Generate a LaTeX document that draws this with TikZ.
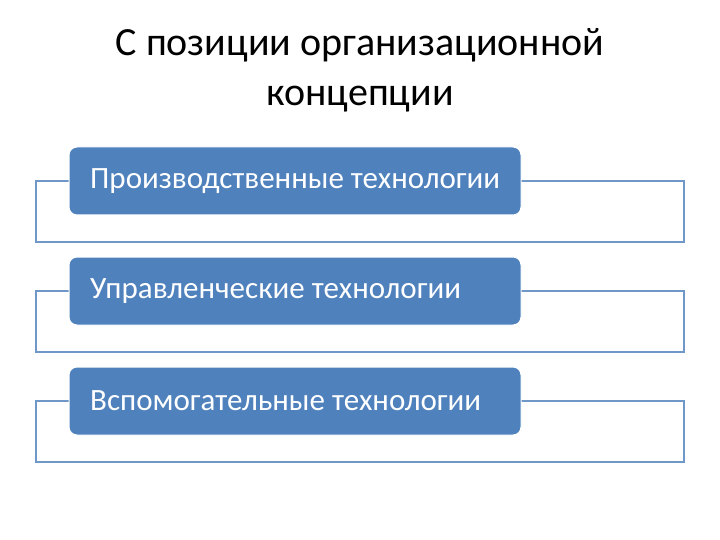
\documentclass[tikz,border=0pt]{standalone}
\usepackage{fontspec}
\setmainfont{Carlito}
\definecolor{accent}{HTML}{4F81BD}
\definecolor{frameline}{HTML}{6F97C8}
\tikzset{
  frame/.style={draw=frameline, line width=1.2pt, fill=white},
  bluebox/.style={draw=white, line width=1pt, fill=accent, rounded corners=8pt},
  boxtext/.style={font=\fontsize{31}{36}\selectfont, text=white, anchor=west, inner xsep=0pt},
  titletext/.style={font=\fontsize{40}{50}\selectfont, align=center}
}
\begin{document}
\begin{tikzpicture}[x=1pt,y=-1pt]
\useasboundingbox (0,0) rectangle (720,540);
\node[titletext] (title) at (360,70) {С позиции организационной\\концепции};
\foreach \i/\t/\y in {1/Производственные технологии/147,2/Управленческие технологии/257,3/Вспомогательные технологии/367}{
  \path[frame] (36,\y+34) rectangle (684,\y+95);
  \path[bluebox] (69,\y) rectangle (521,\y+68);
  \node[boxtext] (b\i) at (90,\y+34) {\t};
}
\end{tikzpicture}
\end{document}
